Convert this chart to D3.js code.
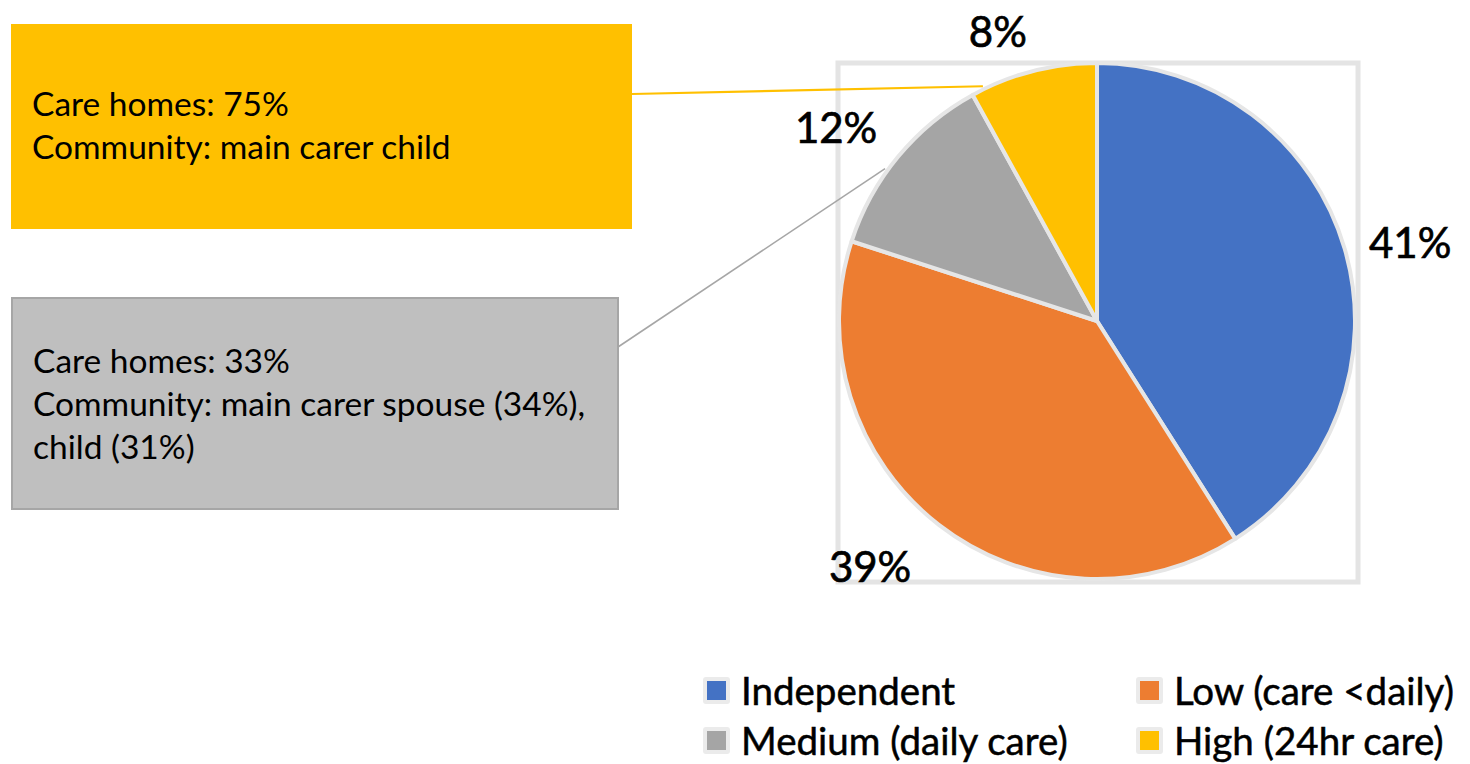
<!DOCTYPE html>
<html>
<head>
<meta charset="utf-8">
<script src="https://cdn.jsdelivr.net/npm/d3@7"></script>
<style>
  html, body { margin: 0; padding: 0; background: #ffffff; }
  svg { display: block; }
  text { font-family: Lato, "Open Sans", sans-serif; fill: #000; }
</style>
</head>
<body>
<svg id="chart" width="1470" height="764"></svg>
<script>
// Care need levels and their share of people
const categories = ["Independent", "Low (care <daily)", "Medium (daily care)", "High (24hr care)"];
const values = [41, 39, 12, 8];
const colors = ["#4472C4", "#ED7D31", "#A5A5A5", "#FFC000"];

// Notes attached to the medium and high care slices
const highNote = ["Care homes: 75%", "Community: main carer child"];
const mediumNote = ["Care homes: 33%", "Community: main carer spouse (34%),", "child (31%)"];

const svg = d3.select("#chart");

// Pie geometry
const cx = 1097, cy = 321, radius = 258;

// Plot area frame
svg.append("rect")
  .attr("x", 838).attr("y", 63)
  .attr("width", 520).attr("height", 519)
  .attr("fill", "none")
  .attr("stroke", "#e4e4e4")
  .attr("stroke-width", 5);

const pie = d3.pie().sort(null).value(d => d)(values);
const arc = d3.arc().innerRadius(0).outerRadius(radius);

const g = svg.append("g").attr("transform", `translate(${cx},${cy})`);
g.selectAll("path.slice")
  .data(pie)
  .join("path")
  .attr("class", "slice")
  .attr("d", arc)
  .attr("fill", (d, i) => colors[i])
  .attr("stroke", "#e6e6e6")
  .attr("stroke-width", 4)
  .attr("stroke-linejoin", "round");

// Percentage labels placed around the pie
const labelAngleShift = [2, 5, -3, -4.5];   // degrees from slice mid-angle
const labelRadius = [323, 334, 325, 306];
g.selectAll("text.pct")
  .data(pie)
  .join("text")
  .attr("class", "pct")
  .attr("text-anchor", "middle")
  .attr("dominant-baseline", "central")
  .attr("font-size", 42)
  .attr("stroke", "#000")
  .attr("stroke-width", 0.7)
  .attr("transform", (d, i) => {
    const a = (d.startAngle + d.endAngle) / 2 + labelAngleShift[i] * Math.PI / 180;
    const [x, y] = d3.pointRadial(a, labelRadius[i]);
    return `translate(${x},${y})`;
  })
  .text(d => d.value + "%");

// Callout boxes with leader lines to their slices
function callout(sliceIndex, anchorFrac, box, fill, stroke, lineColor, lineWidth, lines, lineY) {
  const d = pie[sliceIndex];
  const a = d.startAngle + (d.endAngle - d.startAngle) * anchorFrac;
  const [px, py] = d3.pointRadial(a, radius + 3);
  svg.append("line")
    .attr("x1", box.x + box.w).attr("y1", lineY)
    .attr("x2", cx + px).attr("y2", cy + py)
    .attr("stroke", lineColor)
    .attr("stroke-width", lineWidth);
  svg.append("rect")
    .attr("x", box.x).attr("y", box.y)
    .attr("width", box.w).attr("height", box.h)
    .attr("fill", fill)
    .attr("stroke", stroke)
    .attr("stroke-width", stroke === "none" ? 0 : 2);
  lines.forEach((s, i) => {
    svg.append("text")
      .attr("x", box.x + 21)
      .attr("y", box.firstBaseline + i * 43)
      .attr("font-size", 33.5)
      .text(s);
  });
}

callout(3, 0.1, { x: 11, y: 24, w: 621, h: 205, firstBaseline: 116 },
  "#FFC000", "none", "#FFC000", 2.2, highNote, 94);
callout(2, 0.41, { x: 12, y: 298, w: 606, h: 211, firstBaseline: 373 },
  "#BFBFBF", "#A6A6A6", "#A6A6A6", 1.6, mediumNote, 347);

// Legend in two columns
const legendX = [707, 1140];
const legendY = [690, 740];
const legend = svg.append("g");
categories.forEach((name, i) => {
  const col = i % 2, row = Math.floor(i / 2);
  const x = legendX[col], y = legendY[row];
  legend.append("rect")
    .attr("x", x - 4).attr("y", y - 13)
    .attr("width", 27).attr("height", 27)
    .attr("rx", 3)
    .attr("fill", "#ebebeb");
  legend.append("rect")
    .attr("x", x).attr("y", y - 9)
    .attr("width", 19).attr("height", 19)
    .attr("fill", colors[i]);
  legend.append("text")
    .attr("x", x + 34)
    .attr("y", y)
    .attr("dominant-baseline", "central")
    .attr("font-size", 38.5)
    .attr("stroke", "#000")
    .attr("stroke-width", 0.5)
    .text(name);
});
</script>
</body>
</html>
